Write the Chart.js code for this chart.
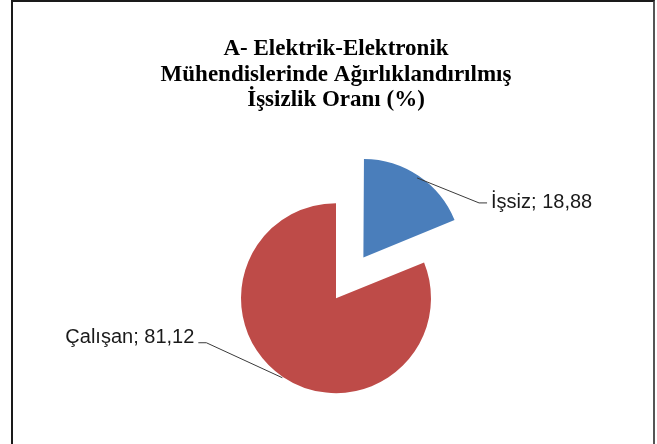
<!DOCTYPE html>
<html>
<head>
<meta charset="utf-8">
<title>İşsizlik Oranı</title>
<script src="https://cdn.jsdelivr.net/npm/chart.js@4"></script>
<style>
    html, body { margin: 0; padding: 0; background: #ffffff; }
    .frame {
        position: absolute;
        left: 11px;
        top: 0;
        width: 640px;
        height: 470px;
        border: 2px solid #1a1a1a;
        border-right-color: #555555;
        border-bottom: none;
    }
    .chart-box {
        position: absolute;
        left: 0;
        top: 0;
        width: 657px;
        height: 444px;
    }
</style>
</head>
<body>
<div class="frame"></div>
<div class="chart-box">
    <canvas id="unemployment_chart"></canvas>
</div>
<script>
// Chart data
const titleLines = [
    'A- Elektrik-Elektronik',
    'Mühendislerinde Ağırlıklandırılmış',
    'İşsizlik Oranı (%)'
]
const categories = ['İşsiz', 'Çalışan']
const shares = [18.88, 81.12]
const sliceColors = ['#4a7ebb', '#be4b48']

// Excel style "Name; value" labels with leader lines
const leaderLabels = {
    id: 'leaderLabels',
    afterDatasetsDraw(chart, args, opts) {
        const ctx = chart.ctx
        const meta = chart.getDatasetMeta(0)
        const labels = chart.data.labels
        const values = chart.data.datasets[0].data

        meta.data.forEach((arc, i) => {
            const p = arc.getProps(['x', 'y', 'startAngle', 'endAngle', 'outerRadius'], true)
            const shift = (arc.options.offset || 0) / 4
            const mid = (p.startAngle + p.endAngle) / 2
            const cx = p.x + Math.cos(mid) * shift
            const cy = p.y + Math.sin(mid) * shift
            const r = p.outerRadius + 1
            const ex = cx + Math.cos(mid) * r
            const ey = cy + Math.sin(mid) * r

            const lead = opts.leads[i]
            const bx = ex + lead.dx
            const by = ey + lead.dy
            const side = lead.dx >= 0 ? 1 : -1
            const hx = bx + side * opts.tail

            ctx.save()
            ctx.strokeStyle = opts.lineColor
            ctx.lineWidth = 1
            ctx.beginPath()
            ctx.moveTo(ex, ey)
            ctx.lineTo(bx, by)
            ctx.lineTo(hx, by)
            ctx.stroke()

            const text = `${labels[i]}; ${values[i].toFixed(2).replace('.', ',')}`
            ctx.font = opts.font
            ctx.fillStyle = opts.color
            ctx.textBaseline = 'middle'
            ctx.textAlign = side > 0 ? 'left' : 'right'
            ctx.fillText(text, hx + side * opts.gap, by + lead.textDy)
            ctx.restore()
        })
    }
}

const canvas = document.getElementById('unemployment_chart')

new Chart(canvas.getContext('2d'), {
    type: 'pie',
    data: {
        labels: categories,
        datasets: [{
            data: shares,
            backgroundColor: sliceColors,
            borderWidth: 0,
            offset: [196, 0],
            radius: 95
        }]
    },
    options: {
        responsive: true,
        maintainAspectRatio: false,
        animation: false,
        events: [],
        layout: {
            padding: { left: 15, right: 0, top: 0, bottom: 0 }
        },
        plugins: {
            legend: { display: false },
            tooltip: { enabled: false },
            title: {
                display: true,
                text: titleLines,
                color: '#000000',
                font: {
                    family: '"Liberation Serif", "DejaVu Serif", serif',
                    size: 23,
                    weight: 'bold',
                    lineHeight: 1.12
                },
                padding: { top: 36, bottom: 39 }
            },
            leaderLabels: {
                font: '20px "Liberation Sans", Arial, sans-serif',
                color: '#1a1a1a',
                lineColor: '#3a3a3a',
                tail: 8,
                gap: 4,
                leads: [
                    { dx: 62, dy: 25, textDy: 0 },
                    { dx: -76, dy: -35, textDy: -5 }
                ]
            }
        }
    },
    plugins: [leaderLabels]
})
</script>
</body>
</html>
